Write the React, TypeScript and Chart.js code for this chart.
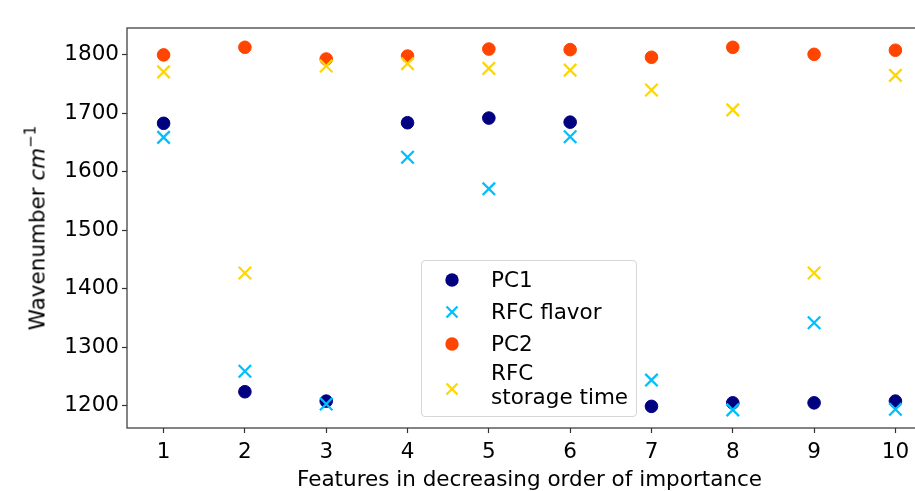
import React, { useEffect, useRef } from "react";
import { Chart, registerables } from "chart.js";
Chart.register(...registerables);

const features = [1, 2, 3, 4, 5, 6, 7, 8, 9, 10];
const pc1 = [1683, 1224, 1208, 1684, 1692, 1685, 1199, 1205, 1205, 1208];
const rfcFlavor = [1659, 1259, 1203, 1625, 1571, 1660, 1244, 1193, 1342, 1194];
const pc2 = [1800, 1813, 1793, 1798, 1810, 1809, 1796, 1813, 1801, 1808];
const rfcStorage = [1771, 1427, 1781, 1785, 1777, 1774, 1740, 1706, 1427, 1765];
const yTickValues = [1200, 1300, 1400, 1500, 1600, 1700, 1800];
const xTickValues = features;
const seriesNames = ["PC1", "RFC flavor", "PC2", "RFC\nstorage time"];
const seriesColors = ["#000080", "#00BFFF", "#FF4500", "#FFD700"];
const seriesMarkers = ["circle", "cross", "circle", "cross"];
const seriesValues = [pc1, rfcFlavor, pc2, rfcStorage];

const FONT = "'DejaVu Sans', sans-serif";
const FONT_SIZE = 21.5;

const framePlugin = {
  id: "frame",
  afterDraw(chart: any) {
    const { ctx, chartArea } = chart;
    ctx.save();
    ctx.strokeStyle = "#333";
    ctx.lineWidth = 1.2;
    ctx.strokeRect(chartArea.left, chartArea.top, chartArea.right - chartArea.left, chartArea.bottom - chartArea.top);
    ctx.restore();
  },
};

function Marker({ kind, color }: { kind: string; color: string }) {
  return (
    <svg width="18" height="18" viewBox="0 0 18 18" style={{ display: "block" }}>
      {kind === "circle" ? (
        <circle cx="9" cy="9" r="6.7" fill={color} />
      ) : (
        <g stroke={color} strokeWidth="2.3">
          <line x1="3.5" y1="3.5" x2="14.5" y2="14.5" />
          <line x1="14.5" y1="3.5" x2="3.5" y2="14.5" />
        </g>
      )}
    </svg>
  );
}

export default function App() {
  const canvasRef = useRef<HTMLCanvasElement | null>(null);

  useEffect(() => {
    const canvas = canvasRef.current;
    if (!canvas) return;
    const datasets = seriesValues.map((vals, i) => ({
      label: seriesNames[i],
      data: features.map((f, j) => ({ x: f, y: vals[j] })),
      pointStyle: seriesMarkers[i] === "circle" ? "circle" : "crossRot",
      pointRadius: seriesMarkers[i] === "circle" ? 6.3 : 8.8,
      pointBorderWidth: seriesMarkers[i] === "circle" ? 1 : 2.3,
      backgroundColor: seriesColors[i],
      borderColor: seriesColors[i],
      showLine: false,
      order: 4 - i,
    }));
    const chart = new Chart(canvas, {
      type: "scatter",
      data: { datasets },
      plugins: [framePlugin],
      options: {
        animation: false,
        responsive: false,
        maintainAspectRatio: false,
        layout: { padding: { top: 28, right: 28, left: 0, bottom: 0 } },
        plugins: { legend: { display: false }, tooltip: { enabled: false } },
        scales: {
          x: {
            type: "linear",
            min: 0.55,
            max: 10.45,
            afterFit: (s: any) => { s.height = 63; },
            afterBuildTicks: (s: any) => { s.ticks = xTickValues.map((v) => ({ value: v })); },
            grid: { drawOnChartArea: false, drawTicks: true, tickLength: 5, tickColor: "#333", tickWidth: 1.2 },
            border: { display: false },
            ticks: {
              font: { family: FONT, size: FONT_SIZE }, color: "#000", padding: 7, maxRotation: 0, autoSkip: false,
              callback: (v: any) => String(v),
            },
          },
          y: {
            type: "linear",
            min: 1162,
            max: 1846,
            afterFit: (s: any) => { s.width = 127; },
            afterBuildTicks: (s: any) => { s.ticks = yTickValues.map((v) => ({ value: v })); },
            grid: { drawOnChartArea: false, drawTicks: true, tickLength: 5, tickColor: "#333", tickWidth: 1.2 },
            border: { display: false },
            ticks: {
              font: { family: FONT, size: FONT_SIZE }, color: "#000", padding: 3, autoSkip: false,
              callback: (v: any) => String(v),
            },
          },
        },
      },
    } as any);
    return () => chart.destroy();
  }, []);

  const rows = [
    { top: 19, idx: 0 },
    { top: 51, idx: 1 },
    { top: 83, idx: 2 },
    { top: 128, idx: 3 },
  ];

  return (
    <div style={{ position: "fixed", left: 0, top: 0, width: 960, height: 491, background: "#fff", fontFamily: FONT }}>
      <canvas ref={canvasRef} width={960} height={491} style={{ position: "absolute", left: 0, top: 0 }} />
      <div
        style={{
          position: "absolute",
          left: 37,
          top: 228,
          transform: "translate(-50%, -50%) rotate(-90deg)",
          whiteSpace: "nowrap",
          fontSize: FONT_SIZE,
          color: "#000",
        }}
      >
        Wavenumber <i>cm</i>
        <sup style={{ fontSize: 15, verticalAlign: "9px", lineHeight: 0 }}>−1</sup>
      </div>
      <div
        style={{
          position: "absolute",
          left: 529.5,
          top: 478,
          transform: "translate(-50%, -50%)",
          whiteSpace: "nowrap",
          fontSize: FONT_SIZE,
          color: "#000",
        }}
      >
        Features in decreasing order of importance
      </div>
      <div
        style={{
          position: "absolute",
          left: 421,
          top: 260,
          width: 214,
          height: 155,
          border: "1px solid #d6d6d6",
          borderRadius: 4,
          background: "rgba(255,255,255,0.8)",
        }}
      >
        {rows.map((r) => (
          <React.Fragment key={r.idx}>
            <div style={{ position: "absolute", left: 21, top: r.top - 9 }}>
              <Marker kind={seriesMarkers[r.idx]} color={seriesColors[r.idx]} />
            </div>
          </React.Fragment>
        ))}
        {[0, 1, 2].map((i) => (
          <div
            key={"t" + i}
            style={{ position: "absolute", left: 69, top: rows[i].top - 12, fontSize: FONT_SIZE, lineHeight: "24px", whiteSpace: "nowrap" }}
          >
            {seriesNames[i]}
          </div>
        ))}
        <div
          style={{ position: "absolute", left: 69, top: 100, fontSize: FONT_SIZE, lineHeight: "24px", whiteSpace: "pre" }}
        >
          {seriesNames[3]}
        </div>
      </div>
    </div>
  );
}
